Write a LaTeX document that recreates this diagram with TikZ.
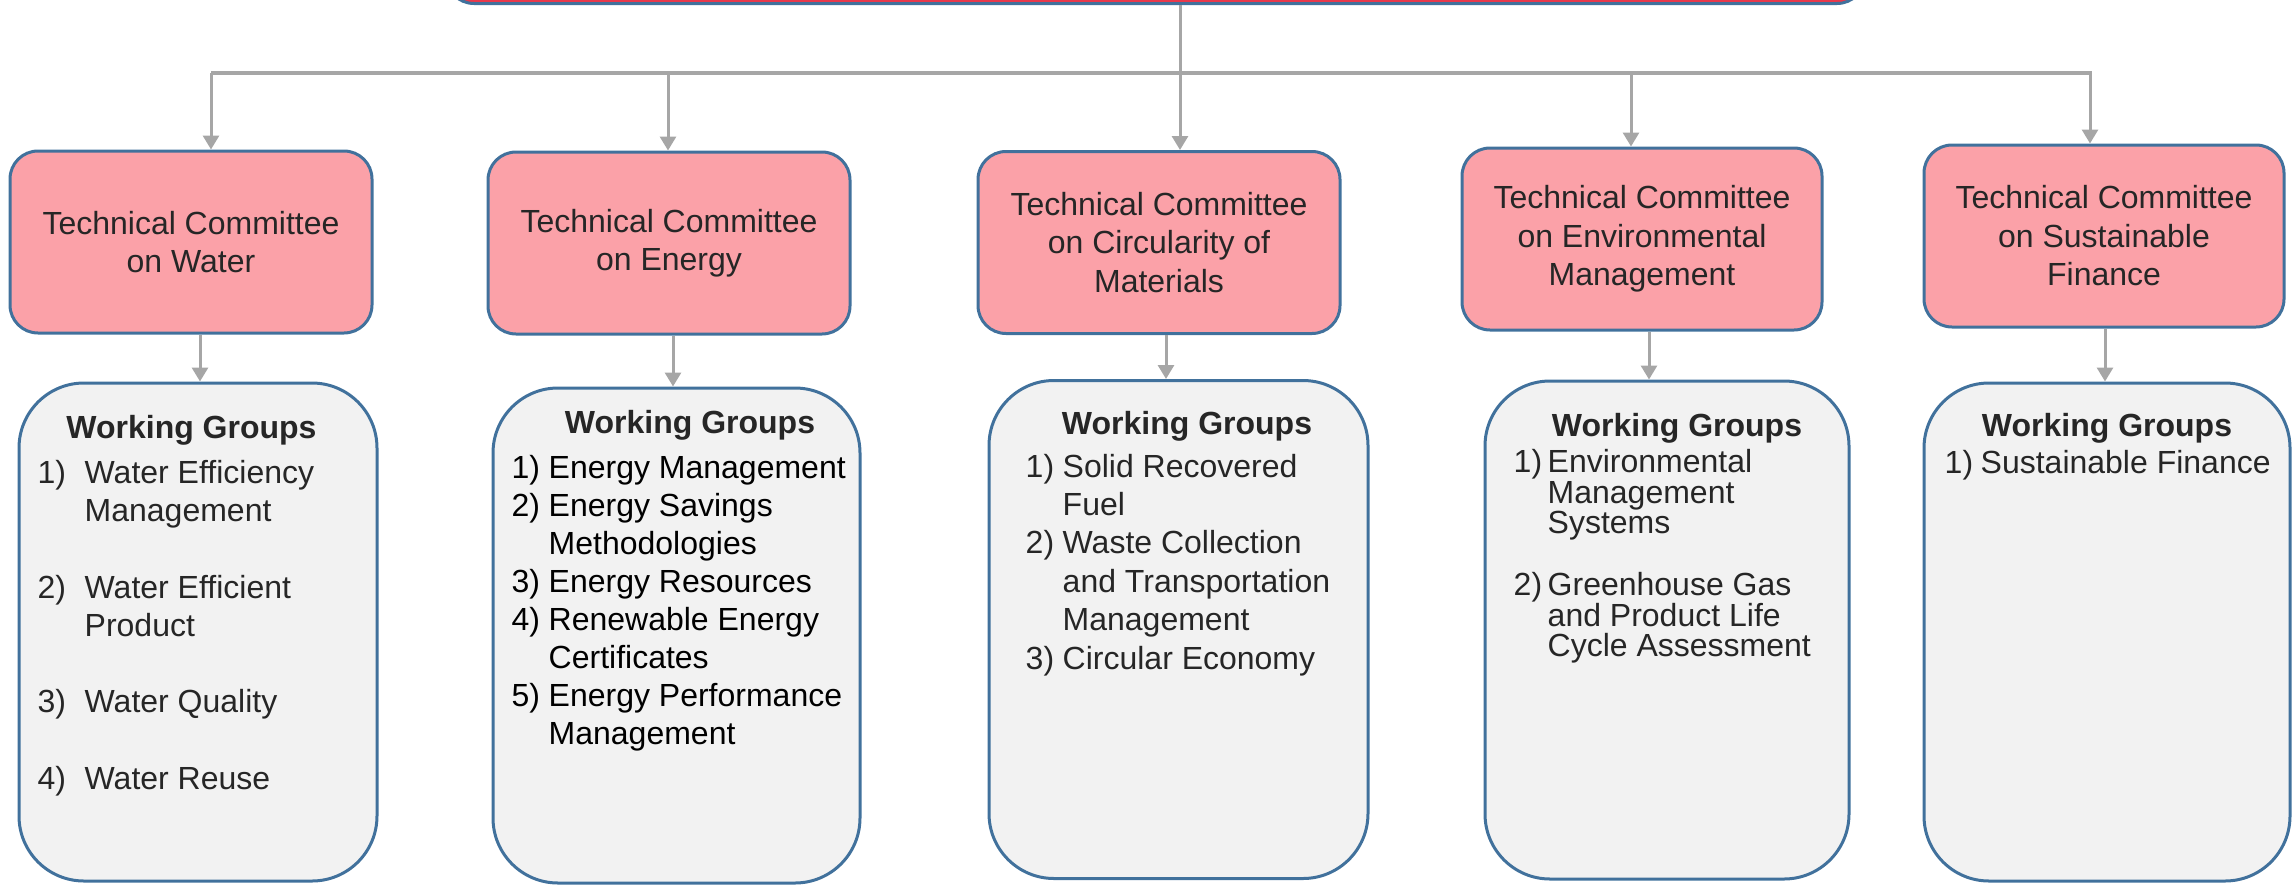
\documentclass[tikz,border=0pt]{standalone}
\usepackage{fontspec}
\setmainfont{Liberation Sans}
\usepackage{tikz}
\usetikzlibrary{positioning, arrows.meta}

\definecolor{boxblue}{HTML}{41719C}
\definecolor{tcpink}{HTML}{FBA1A8}
\definecolor{topred}{HTML}{E9394B}
\definecolor{wggray}{HTML}{F2F2F2}
\definecolor{linkgray}{HTML}{A6A6A6}
\definecolor{tcgray}{HTML}{262626}

% number of a working group item, with hanging indent
\newcommand{\wgi}[2][37pt]{\makebox[#1][l]{#2}}

\tikzset{
	tcbox/.style={
		draw=boxblue,
		fill=tcpink,
		line width=3pt,
		rounded corners=28pt,
		inner sep=0pt,
		minimum width=362pt,
		minimum height=182pt,
		align=center,
		text=tcgray,
		font=\fontsize{32}{38.5}\selectfont
	},
	wgbox/.style={
		draw=boxblue,
		fill=wggray,
		line width=3pt,
		rounded corners=65pt,
		inner sep=0pt,
		minimum height=498pt
	},
	wgtitle/.style={
		anchor=base,
		inner sep=0pt,
		text=tcgray,
		font=\fontsize{32}{38}\selectfont\bfseries
	},
	% anchored at the baseline of the last line
	wglist/.style={
		anchor=base west,
		inner sep=0pt,
		align=left,
		text=tcgray,
		font=\fontsize{32}{38.3}\selectfont
	},
	link/.style={
		draw=linkgray,
		line width=3pt,
		-{Triangle[length=14pt, width=16pt]}
	},
	bar/.style={
		draw=linkgray,
		line width=4pt
	}
}

\begin{document}
\begin{tikzpicture}[x=1pt, y=-1pt]
	\useasboundingbox (0,0) rectangle (2292,884);

	% board (cut off at the top)
	\node[draw=boxblue, fill=topred, line width=3pt, rounded corners=28pt,
		minimum width=1419pt, minimum height=100pt] (top) at (1155.5,-46.5) {};

	% technical committees
	\node[tcbox] (tc1) at (191,242) {Technical Committee\\on Water};
	\node[tcbox] (tc2) at (669,243) {Technical Committee\\on Energy};
	\node[tcbox] (tc3) at (1159,242.5) {Technical Committee\\on Circularity of\\Materials};
	\node[tcbox, minimum width=360pt] (tc4) at (1642,239) {Technical Committee\\on Environmental\\Management};
	\node[tcbox, minimum width=360pt] (tc5) at (2104,236) {Technical Committee\\on Sustainable\\Finance};

	% working groups
	\node[wgbox, minimum width=358pt, below=47pt of tc1, xshift=7pt] (wg1) {};
	\node[wgbox, minimum width=367pt, minimum height=495pt, below=51pt of tc2, xshift=7.5pt] (wg2) {};
	\node[wgbox, minimum width=379pt, below=44pt of tc3, xshift=19.5pt] (wg3) {};
	\node[wgbox, minimum width=364pt, below=48pt of tc4, xshift=25pt] (wg4) {};
	\node[wgbox, minimum width=366pt, below=53pt of tc5, xshift=3pt] (wg5) {};

	\node[wgtitle] (wt1) at ([xshift=-6.5pt, yshift=-57pt]wg1.north) {Working Groups};
	\node[wgtitle] (wt2) at ([xshift=13.5pt, yshift=-47pt]wg2.north) {Working Groups};
	\node[wgtitle] (wt3) at ([xshift=8.5pt, yshift=-55pt]wg3.north) {Working Groups};
	\node[wgtitle] (wt4) at ([xshift=10pt, yshift=-57pt]wg4.north) {Working Groups};
	\node[wgtitle] (wt5) at ([yshift=-55pt]wg5.north) {Working Groups};

	\node[wglist] (wl1) at ([xshift=20pt, yshift=-350.5pt]wg1.west |- wt1.base) {
		\wgi[47pt]{1)}Water Efficiency\\
		\wgi[47pt]{}Management\\[38pt]
		\wgi[47pt]{2)}Water Efficient\\
		\wgi[47pt]{}Product\\[38pt]
		\wgi[47pt]{3)}Water Quality\\[38pt]
		\wgi[47pt]{4)}Water Reuse};
	\node[wglist, text=black, font=\fontsize{32}{38}\selectfont] (wl2) at ([xshift=20pt, yshift=-311pt]wg2.west |- wt2.base) {
		\wgi{1)}Energy Management\\
		\wgi{2)}Energy Savings\\
		\wgi{}Methodologies\\
		\wgi{3)}Energy Resources\\
		\wgi{4)}Renewable Energy\\
		\wgi{}Certificates\\
		\wgi{5)}Energy Performance\\
		\wgi{}Management};
	\node[wglist, font=\fontsize{32}{38.4}\selectfont] (wl3) at ([xshift=38pt, yshift=-235pt]wg3.west |- wt3.base) {
		\wgi{1)}Solid Recovered\\
		\wgi{}Fuel\\
		\wgi{2)}Waste Collection\\
		\wgi{}and Transportation\\
		\wgi{}Management\\
		\wgi{3)}Circular Economy};
	\node[wglist, font=\fontsize{32}{30.5}\selectfont] (wl4) at ([xshift=30pt, yshift=-220pt]wg4.west |- wt4.base) {
		\wgi[34pt]{1)}Environmental\\
		\wgi[34pt]{}Management\\
		\wgi[34pt]{}Systems\\[31.5pt]
		\wgi[34pt]{2)}Greenhouse Gas\\
		\wgi[34pt]{}and Product Life\\
		\wgi[34pt]{}Cycle Assessment};
	\node[wglist] (wl5) at ([xshift=22pt, yshift=-37pt]wg5.west |- wt5.base) {
		\wgi[36pt]{1)}Sustainable Finance};

	% connections
	\coordinate (b1) at (211,73);
	\coordinate (b2) at (668,73);
	\coordinate (b3) at (1180,73);
	\coordinate (b4) at (1631,73);
	\coordinate (b5) at (2090,73);

	\draw[bar] (b1) -- ([xshift=2pt]b5);
	\draw[link] (top.south -| b3) -- (b3 |- tc3.north);
	\foreach \i in {1,2,4,5} {
		\draw[link] (b\i) -- (b\i |- tc\i.north);
	}
	\foreach \i/\dx in {1/9, 2/4, 3/7, 4/7, 5/1} {
		\draw[link] ([xshift=\dx pt]tc\i.south) -- ([xshift=\dx pt]tc\i.south |- wg\i.north);
	}
\end{tikzpicture}
\end{document}
